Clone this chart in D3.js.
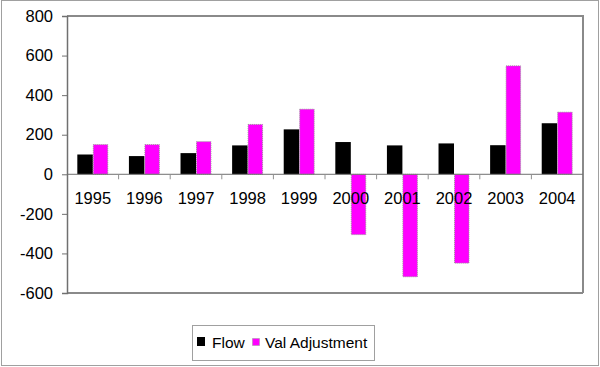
<!DOCTYPE html>
<html>
<head>
<meta charset="utf-8">
<script src="https://cdn.jsdelivr.net/npm/d3@7"></script>
<style>
  body { margin: 0; background: #fff; }
  text { font-family: Arial, "Liberation Sans", sans-serif; fill: #000; }
</style>
</head>
<body>
<script>
var width = 600, height = 367;

var years = ["1995","1996","1997","1998","1999","2000","2001","2002","2003","2004"];
var flow = [100, 92, 107, 146, 227, 163, 146, 156, 147, 258];
var valAdjustment = [150, 150, 165, 252, 329, -305, -518, -449, 548, 314];
var yTicks = [800, 600, 400, 200, 0, -200, -400, -600];
var seriesNames = ["Flow", "Val Adjustment"];

var plot = {left: 67, right: 583, top: 16, bottom: 293};

var xScale = d3.scaleBand()
  .domain(years)
  .range([plot.left, plot.right]);

var yScale = d3.scaleLinear()
  .domain([-600, 800])
  .range([plot.bottom, plot.top]);

var barW = xScale.bandwidth() * 0.3;

var svg = d3.select("body")
  .append("svg")
  .attr("width", width)
  .attr("height", height);

// outer chart frame
svg.append("rect")
  .attr("x", 1.5).attr("y", 0.5)
  .attr("width", 597).attr("height", 365)
  .attr("fill", "#fff")
  .attr("stroke", "#a0a0a0")
  .attr("stroke-width", 1);

// plot area frame (top and right)
svg.append("path")
  .attr("d", "M" + plot.left + "," + plot.top + "H" + plot.right + "V" + plot.bottom)
  .attr("fill", "none")
  .attr("stroke", "#8a8a8a")
  .attr("stroke-width", 2);

svg.append("line")
  .attr("x1", plot.left).attr("x2", plot.right)
  .attr("y1", plot.bottom).attr("y2", plot.bottom)
  .attr("stroke", "#8a8a8a")
  .attr("stroke-width", 2);

// y axis
var yAxis = svg.append("g")
  .attr("transform", "translate(" + plot.left + ",0)")
  .call(d3.axisLeft(yScale).tickValues(yTicks).tickSize(5).tickPadding(9)
    .tickFormat(function(d) { return String(d); }));

yAxis.select(".domain").attr("stroke", "#707070").attr("stroke-width", 1.5);
yAxis.selectAll(".tick line").attr("stroke", "#707070");
yAxis.selectAll("text")
  .style("font-size", "16.5px")
  .style("font-family", "Arial, 'Liberation Sans', sans-serif")
  .attr("fill", "#000");

// bars
svg.selectAll(".flowBar")
  .data(years)
  .enter()
  .append("rect")
  .attr("class", "flowBar")
  .attr("x", function(d) { return xScale(d) + xScale.bandwidth() * 0.2; })
  .attr("y", function(d, i) { return yScale(Math.max(0, flow[i])); })
  .attr("width", barW)
  .attr("height", function(d, i) { return Math.abs(yScale(flow[i]) - yScale(0)); })
  .attr("fill", "#000");

svg.selectAll(".valBar")
  .data(years)
  .enter()
  .append("rect")
  .attr("class", "valBar")
  .attr("x", function(d) { return xScale(d) + xScale.bandwidth() * 0.2 + barW + 0.5; })
  .attr("y", function(d, i) { return yScale(Math.max(0, valAdjustment[i])); })
  .attr("width", barW - 1)
  .attr("height", function(d, i) { return Math.abs(yScale(valAdjustment[i]) - yScale(0)); })
  .attr("fill", "#ff00ff")
  .attr("stroke", "#9a9a9a")
  .attr("stroke-width", 1)
  .attr("stroke-dasharray", "1,1");

// x axis at zero
var xAxis = svg.append("g")
  .attr("transform", "translate(0," + yScale(0) + ")");

xAxis.append("line")
  .attr("x1", plot.left).attr("x2", plot.right)
  .attr("stroke", "#707070");

xAxis.selectAll(".xtick")
  .data(years.slice(1))
  .enter()
  .append("line")
  .attr("class", "xtick")
  .attr("x1", function(d) { return xScale(d); })
  .attr("x2", function(d) { return xScale(d); })
  .attr("y1", 0).attr("y2", 5)
  .attr("stroke", "#909090");

xAxis.selectAll(".xlabel")
  .data(years)
  .enter()
  .append("text")
  .attr("class", "xlabel")
  .attr("x", function(d) { return xScale(d) + xScale.bandwidth() / 2; })
  .attr("y", 30)
  .attr("text-anchor", "middle")
  .style("font-size", "16.5px")
  .text(function(d) { return d; });

// legend
var legend = svg.append("g");

legend.append("rect")
  .attr("x", 192.5).attr("y", 325.5)
  .attr("width", 182).attr("height", 35)
  .attr("fill", "#fff")
  .attr("stroke", "#a0a0a0");

legend.append("rect")
  .attr("x", 197).attr("y", 337)
  .attr("width", 8).attr("height", 9)
  .attr("fill", "#000");

legend.append("text")
  .attr("x", 212).attr("y", 348)
  .style("font-size", "15.5px")
  .text(seriesNames[0]);

legend.append("rect")
  .attr("x", 252.5).attr("y", 338.5)
  .attr("width", 7).attr("height", 7)
  .attr("fill", "#ff00ff")
  .attr("stroke", "#9a9a9a")
  .attr("stroke-dasharray", "1,1");

legend.append("text")
  .attr("x", 265).attr("y", 348)
  .style("font-size", "15.5px")
  .text(seriesNames[1]);
</script>
</body>
</html>
